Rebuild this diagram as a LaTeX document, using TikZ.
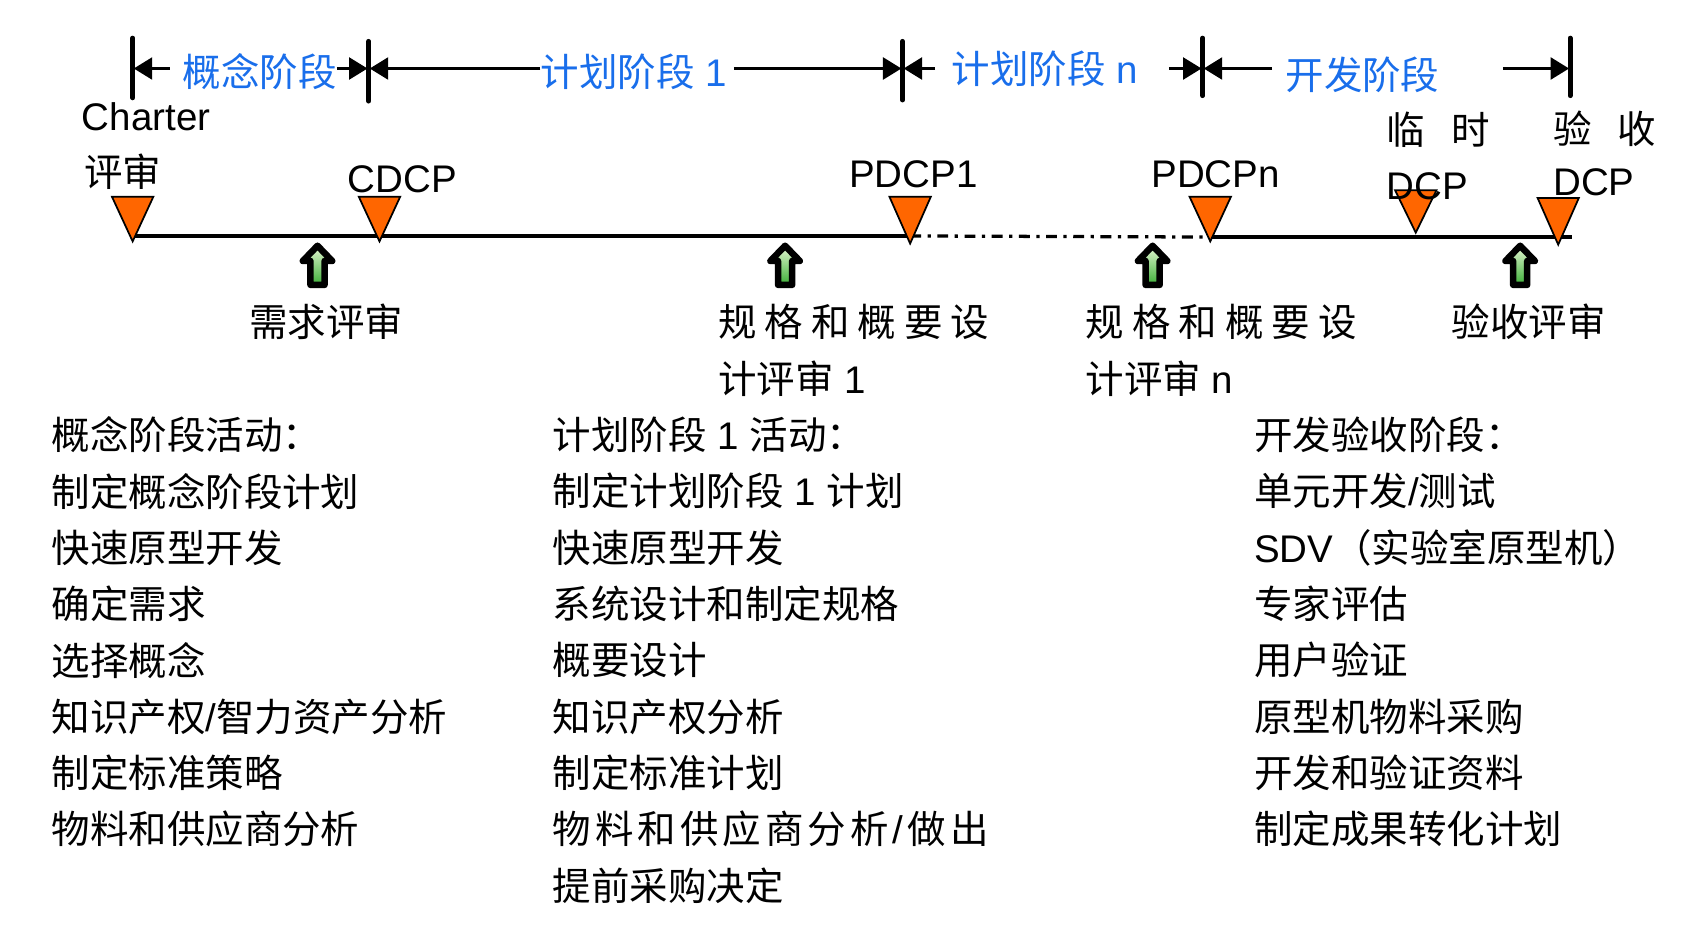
\documentclass[tikz,border=0pt]{standalone}
\usepackage{fontspec}
\setmainfont{Noto Sans CJK SC}
\newfontfamily\lat{Liberation Sans}
\usetikzlibrary{arrows.meta}
\definecolor{tblue}{RGB}{25,110,235}
\definecolor{torange}{RGB}{255,102,0}
\definecolor{glight}{RGB}{228,246,210}
\definecolor{gdark}{RGB}{60,175,55}
\newcommand\gapA{\hspace{3.7pt}}
\newcommand\gapB{\hspace{1.85pt}}
\newcommand\mstri[4]{\draw[ms] (#1-19,#2) -- (#1+19,#2) -- (#1,#3) -- cycle; \coordinate (#4) at (#1,#3);}
\newcommand\uparr[3]{\draw[up] (#1,#2) -- (#1+13.5,#2+14) -- (#1+6.5,#2+14) -- (#1+6.5,#2+36) -- (#1-6.5,#2+36) -- (#1-6.5,#2+14) -- (#1-13.5,#2+14) -- cycle; \coordinate (#3) at (#1,#2);}
\begin{document}
\begin{tikzpicture}[x=0.5pt,y=-0.5pt, font=\fontsize{17.7pt}{21pt}\selectfont,
  txt/.style={inner sep=0pt, anchor=west},
  ctxt/.style={inner sep=0pt},
  phase/.style={inner sep=0pt, text=tblue},
  bar/.style={line width=2.2pt, line cap=round},
  brk/.style={line width=1.5pt, -{Triangle[length=8.5pt,width=10pt]}},
  tl/.style={line width=1.5pt},
  ms/.style={fill=torange, draw=black, line width=0.8pt, line join=miter},
  up/.style={draw=black, line width=3pt, line join=round, top color=glight, bottom color=gdark}
]
\useasboundingbox (0,0) rectangle (1568,850);

% phase bars
\coordinate (b1t) at (122,35);  \coordinate (b1b) at (122,90);
\coordinate (b2t) at (339,38);  \coordinate (b2b) at (339,93);
\coordinate (b3t) at (830,38);  \coordinate (b3b) at (830,92);
\coordinate (b4t) at (1106,35); \coordinate (b4b) at (1106,88);
\coordinate (b5t) at (1444,35); \coordinate (b5b) at (1444,88);
\foreach \i in {1,...,5} {\draw[bar] (b\i t) -- (b\i b);}

% phase labels
\node[phase] (p1) at (239,66) {概念阶段};
\node[phase] (p2) at (583,66) {计划阶段{\lat{} 1}};
\node[phase] (p3) at (961,63) {计划阶段{\lat{} n}};
\node[phase] (p4) at (1253,69) {开发阶段};

% bracket arrows
\coordinate (a1s) at (156,63);  \coordinate (a1e) at (123,63);
\coordinate (a2s) at (310,63);  \coordinate (a2e) at (338,63);
\coordinate (a3s) at (497,63);  \coordinate (a3e) at (340,63);
\coordinate (a4s) at (675,63);  \coordinate (a4e) at (829,63);
\coordinate (a5s) at (860,63);  \coordinate (a5e) at (831,63);
\coordinate (a6s) at (1075,63); \coordinate (a6e) at (1105,63);
\coordinate (a7s) at (1170,63); \coordinate (a7e) at (1107,63);
\coordinate (a8s) at (1382,63); \coordinate (a8e) at (1443,63);
\foreach \i in {1,...,8} {\draw[brk] (a\i s) -- (a\i e);}

% timeline
\coordinate (t0) at (122,217); \coordinate (t1) at (837,217);
\coordinate (t2) at (1113,218); \coordinate (t3) at (1446,218);
\draw[tl] (t0) -- (t1);
\draw[tl, dash pattern=on 5pt off 3pt on 1.5pt off 3pt] (t1) -- (t2);
\draw[tl] (t2) -- (t3);

% milestone labels
\node[txt] (charter) at (75,107) {\lat Charter};
\node[txt] (ps) at (77,158) {评审};
\node[ctxt] (cdcp) at (370,165) {\lat CDCP};
\node[ctxt] (pdcp1) at (840,160) {\lat PDCP1};
\node[ctxt] (pdcpn) at (1118,160) {\lat PDCPn};
\node[txt] (lsh) at (1275,119) {临\hspace{12pt}时};
\node[txt] (ysh) at (1428,118) {验\hspace{12pt}收};

% milestone triangles
\mstri{122}{181}{222}{m1}
\mstri{349}{181}{222}{m2}
\mstri{837}{181}{224}{m3}
\mstri{1113}{181}{222}{m4}
\mstri{1302}{175}{214}{m5}
\mstri{1433}{182}{225}{m6}
\node[txt] (dcp1) at (1275,171) {\lat DCP};
\node[txt] (dcp2) at (1428,168) {\lat DCP};

% review arrows
\uparr{292}{226}{r1}
\uparr{722}{226}{r2}
\uparr{1060}{226}{r3}
\uparr{1398}{226}{r4}

% review labels
\node[ctxt] (rv1) at (300,296) {需求评审};
\node[txt] (rv2a) at (660,296) {规\gapA 格\gapA 和\gapA 概\gapA 要\gapA 设};
\node[txt] (rv2b) at (660,348) {计评审{\lat{} 1}};
\node[txt] (rv3a) at (998,296) {规\gapA 格\gapA 和\gapA 概\gapA 要\gapA 设};
\node[txt] (rv3b) at (998,348) {计评审{\lat{} n}};
\node[ctxt] (rv4) at (1406,296) {验收评审};

% left list
\node[txt] (l1) at (47,400)   {概念阶段活动：};
\node[txt] (l2) at (47,451.8) {制定概念阶段计划};
\node[txt] (l3) at (47,503.6) {快速原型开发};
\node[txt] (l4) at (47,555.4) {确定需求};
\node[txt] (l5) at (47,607.2) {选择概念};
\node[txt] (l6) at (47,659)   {知识产权{\lat /}智力资产分析};
\node[txt] (l7) at (47,710.8) {制定标准策略};
\node[txt] (l8) at (47,762.6) {物料和供应商分析};

% middle list
\node[txt] (c1) at (508,400)   {计划阶段{\lat{} 1 }活动：};
\node[txt] (c2) at (508,451.8) {制定计划阶段{\lat{} 1 }计划};
\node[txt] (c3) at (508,503.6) {快速原型开发};
\node[txt] (c4) at (508,555.4) {系统设计和制定规格};
\node[txt] (c5) at (508,607.2) {概要设计};
\node[txt] (c6) at (508,659)   {知识产权分析};
\node[txt] (c7) at (508,710.8) {制定标准计划};
\node[txt] (c8) at (508,762.6) {物\gapB 料\gapB 和\gapB 供\gapB 应\gapB 商\gapB 分\gapB 析\gapB{\lat /}\gapB 做\gapB 出};
\node[txt] (c9) at (508,814.4) {提前采购决定};

% right list
\node[txt] (d1) at (1153,400)   {开发验收阶段：};
\node[txt] (d2) at (1153,451.8) {单元开发{\lat /}测试};
\node[txt] (d3) at (1153,503.6) {{\lat SDV}（实验室原型机）};
\node[txt] (d4) at (1153,555.4) {专家评估};
\node[txt] (d5) at (1153,607.2) {用户验证};
\node[txt] (d6) at (1153,659)   {原型机物料采购};
\node[txt] (d7) at (1153,710.8) {开发和验证资料};
\node[txt] (d8) at (1153,762.6) {制定成果转化计划};
\end{tikzpicture}
\end{document}
